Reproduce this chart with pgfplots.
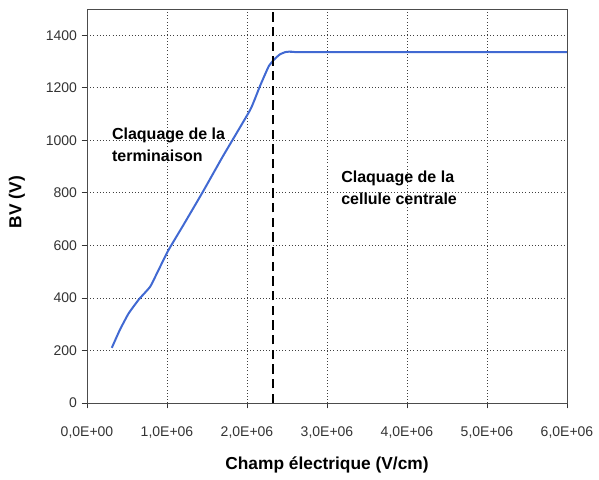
\documentclass[border=0pt]{standalone}
\usepackage{fontspec}
\setmainfont{Liberation Sans}
\usepackage{pgfplots}
\pgfplotsset{compat=1.18}
\definecolor{curve}{RGB}{65,105,210}
\begin{document}
\begin{tikzpicture}
\begin{axis}[
  name=ax,
  scale only axis,
  width=360pt, height=295.5pt,
  xmin=0, xmax=6000000, ymin=0, ymax=1500,
  xtick={0,1000000,2000000,3000000,4000000,5000000,6000000},
  xticklabels={0{,}0E+00,1{,}0E+06,2{,}0E+06,3{,}0E+06,4{,}0E+06,5{,}0E+06,6{,}0E+06},
  scaled x ticks=false,
  ytick={0,200,400,600,800,1000,1200,1400},
  /pgf/number format/assume math mode=true,
  /pgf/number format/1000 sep={},
  tick label style={font=\fontsize{10.5}{12}\selectfont, text=black!80},
  xticklabel style={yshift=-10pt},
  xtick pos=bottom, ytick pos=left,
  tick align=outside,
  major tick length=4pt,
  tick style={black!80, line width=0.6pt},
  grid=major,
  major grid style={black!75, dotted, line width=0.6pt},
  axis line style={black!70, line width=0.6pt},
  xlabel={Champ électrique (V/cm)},
  ylabel={BV (V)},
  label style={font=\bfseries\fontsize{13}{15}\selectfont},
  xlabel style={at={(axis description cs:0.5,-0.158)}, anchor=center},
  ylabel style={at={(axis description cs:-0.146,0.51)}, anchor=center},
]
\addplot[curve, line width=1.5pt, smooth, tension=0.25] coordinates {
(310000,210) (410000,278) (520000,341) (650000,395) (790000,443)
(900000,510) (1020000,583) (1200000,675) (1450000,805) (1700000,940)
(2040000,1116) (2160000,1205) (2270000,1281) (2340000,1308) (2410000,1327)
(2480000,1336) (2560000,1338) (2700000,1336) (6000000,1336)
};
\addplot[black, line width=1.5pt, dash pattern=on 7pt off 4pt] coordinates {(2330000,0) (2330000,1500)};
\node[anchor=north west, inner sep=0pt, align=left, font=\bfseries\fontsize{12}{16.5}\selectfont] at (axis cs:310000,1048) {Claquage de la\\terminaison};
\node[anchor=north west, inner sep=0pt, align=left, font=\bfseries\fontsize{12}{16.5}\selectfont] at (axis cs:3175000,884) {Claquage de la\\cellule centrale};
\end{axis}
\path ([shift={(-65.25pt,-57pt)}]ax.south west) rectangle ([shift={(24pt,6.75pt)}]ax.north east);
\end{tikzpicture}
\end{document}
